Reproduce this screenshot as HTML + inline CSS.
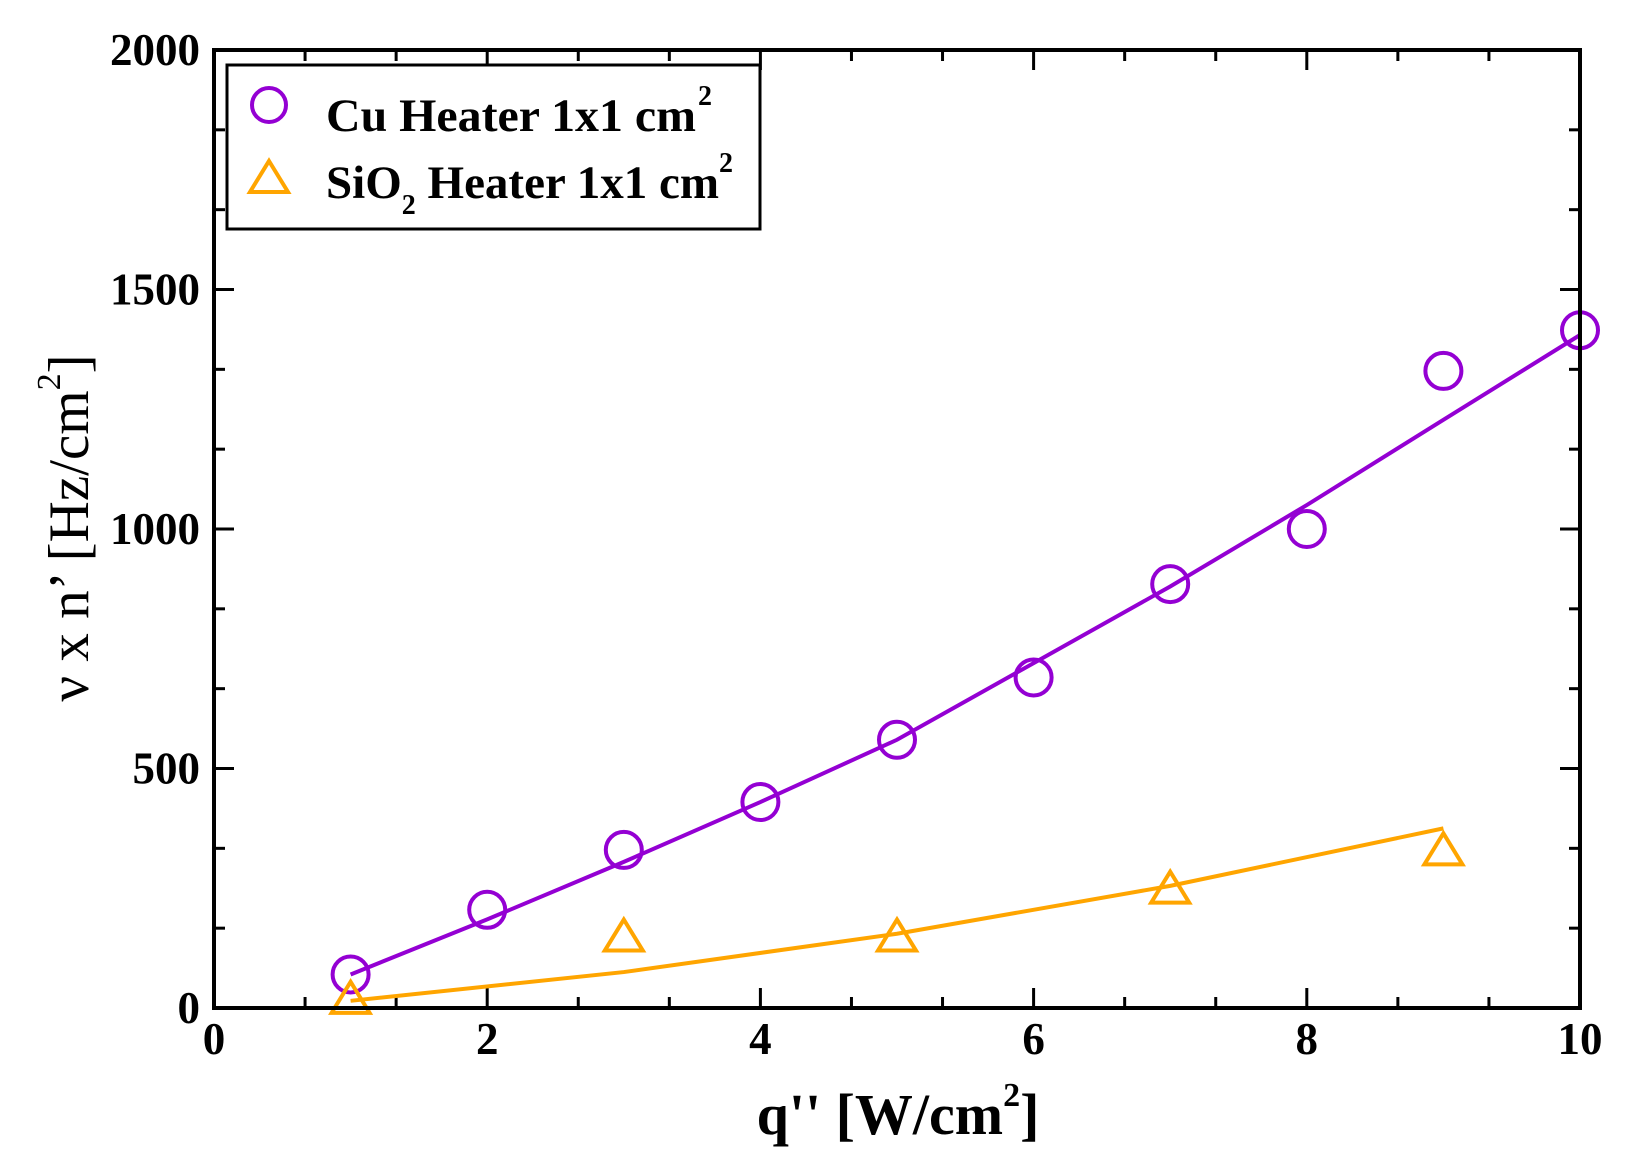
<!DOCTYPE html>
<html><head><meta charset="utf-8"><style>
html,body{margin:0;padding:0;background:#fff}
svg{display:block;font-family:"Liberation Serif",serif;font-weight:bold}
</style></head><body>
<svg id="chart" width="1648" height="1175" viewBox="0 0 1648 1175" xmlns="http://www.w3.org/2000/svg">
<g id="ticks"></g>
<g id="series"></g>
<rect x="214" y="50" width="1366" height="958" fill="none" stroke="#000" stroke-width="4"/>
<g id="legend">
<rect x="227" y="65" width="533" height="164" fill="#fff" stroke="#000" stroke-width="3"/>
<circle cx="269" cy="105" r="17" fill="none" stroke="#9400d3" stroke-width="4"/>
<text x="326" y="131" font-size="47" textLength="370" lengthAdjust="spacingAndGlyphs">Cu Heater 1x1 cm</text>
<text x="698" y="105" font-size="28">2</text>
<polygon points="269,161 288,192 250,192" fill="none" stroke="#ffa500" stroke-width="4"/>
<text x="326" y="198" font-size="47">SiO<tspan dy="16" font-size="28">2</tspan><tspan dy="-16"> Heater 1x1 cm</tspan><tspan dy="-26" font-size="28">2</tspan></text>
</g>
<text x="898" y="1134" font-size="58" text-anchor="middle">q'' [W/cm<tspan dy="-28" font-size="34">2</tspan><tspan dy="28">]</tspan></text>
<text transform="translate(88,528) rotate(-90)" font-size="57" font-weight="normal" text-anchor="middle">ν x n’ [Hz/cm<tspan dy="-28" font-size="34">2</tspan><tspan dy="28">]</tspan></text>
</svg>
<script>
const cuX = [1,2,3,4,5,6,7,8,9,10];
const cuY = [70,205,330,430,560,690,885,1000,1330,1415];
const cuFit = [70,185,305,430,560,720,880,1050,1228,1405];
const sioX = [1,3,5,7,9];
const sioY = [15,145,145,245,325];
const sioFit = [15,75,155,255,375];
const xTicks = [0,2,4,6,8,10];
const yTicks = [0,500,1000,1500,2000];
const L=214,R=1580,T=50,B=1008;
const sx=v=>L+(v-0)/10*(R-L);
const sy=v=>B-(v-0)/2000*(B-T);
const NS='http://www.w3.org/2000/svg';
function mk(tag,attrs,parent){const e=document.createElementNS(NS,tag);for(const k in attrs)e.setAttribute(k,attrs[k]);parent.appendChild(e);return e;}
const tg=document.getElementById('ticks');
for(let i=0;i<=15;i++){const v=i*2/3;const x=sx(v);const len=(i%3===0)?20:11;
 let t=mk('line',{x1:x,x2:x,y1:B,y2:B-len,stroke:'#000','stroke-width':3},tg);
 
 t=mk('line',{x1:x,x2:x,y1:T,y2:T+len,stroke:'#000','stroke-width':3},tg);
 }
for(let i=0;i<=12;i++){const v=i*2000/12;const y=sy(v);const len=(i%3===0)?20:11;
 let t=mk('line',{x1:L,x2:L+len,y1:y,y2:y,stroke:'#000','stroke-width':3},tg);
 
 t=mk('line',{x1:R,x2:R-len,y1:y,y2:y,stroke:'#000','stroke-width':3},tg);
 }
xTicks.forEach(v=>{const t=mk('text',{x:sx(v),y:1054,'font-size':45,'text-anchor':'middle'},tg);t.textContent=v;
 });
yTicks.forEach(v=>{const t=mk('text',{x:200,y:sy(v)+15,'font-size':45,'text-anchor':'end'},tg);t.textContent=v;
 });
const sg=document.getElementById('series');
let p=mk('polyline',{points:cuX.map((x,i)=>sx(x)+','+sy(cuFit[i])).join(' '),fill:'none',stroke:'#9400d3','stroke-width':4},sg);

p=mk('polyline',{points:sioX.map((x,i)=>sx(x)+','+sy(sioFit[i])).join(' '),fill:'none',stroke:'#ffa500','stroke-width':4},sg);

cuX.forEach((x,i)=>{const c=mk('circle',{cx:sx(x),cy:sy(cuY[i]),r:18,fill:'none',stroke:'#9400d3','stroke-width':4},sg);
 });
sioX.forEach((x,i)=>{const X=sx(x),Y=sy(sioY[i]);
 const c=mk('polygon',{points:`${X},${Y-19} ${X+19},${Y+12} ${X-19},${Y+12}`,fill:'none',stroke:'#ffa500','stroke-width':4},sg);
 });
</script>
</body></html>
